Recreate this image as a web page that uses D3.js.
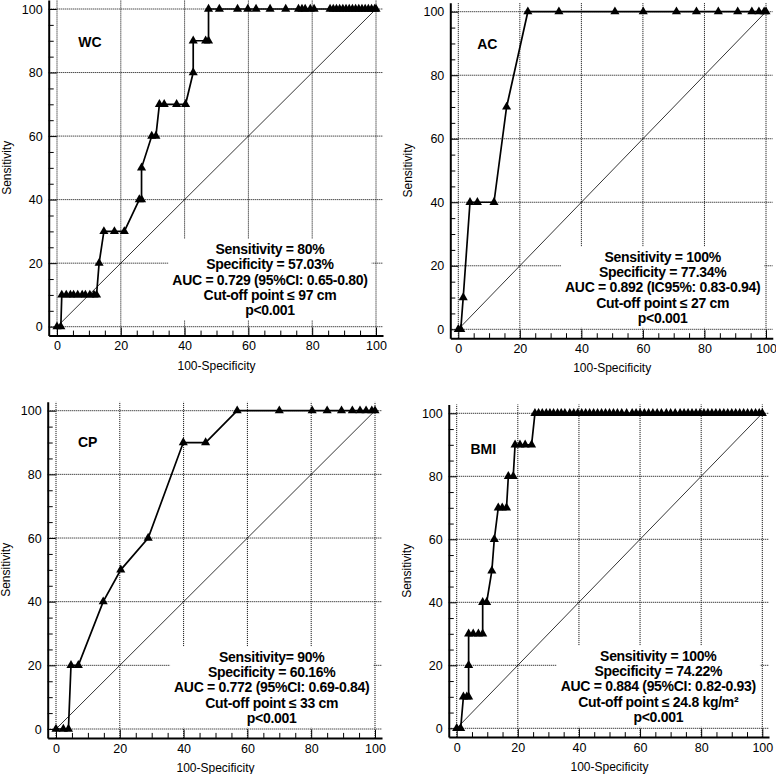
<!DOCTYPE html>
<html>
<head>
<meta charset="utf-8">
<script src="https://cdn.jsdelivr.net/npm/d3@7"></script>
<style>
  body { margin: 0; background: #fff; }
  text { font-family: "Liberation Sans", Arial, Helvetica, sans-serif; }
</style>
</head>
<body>
<script>
// tick labels
var xTicks = [0, 20, 40, 60, 80, 100];
var yTicks = [0, 20, 40, 60, 80, 100];
var minorTicks = [5, 10, 15, 25, 30, 35, 45, 50, 55, 65, 70, 75, 85, 90, 95];

// ROC points [100-specificity, sensitivity]
var wcPoints = [[0,0],[1.2,0],[1.5,10],[2.9,10],[4.2,10],[5.2,10],[6.5,10],[7.9,10],[8.9,10],[10.3,10],[11.6,10],[12.4,10],
  [13.2,20],[14.7,30],[18,30],[21.1,30],[25.8,40],[26.5,40],[26.5,50],[29.7,60],[31,60],[32.1,70],[33.6,70],[37.5,70],[40.3,70],
  [42.7,80],[42.7,90],[46.6,90],[47.5,90],[47.5,100],[50.9,100],[56.6,100],[59.8,100],[62.4,100],[66.8,100],[71.7,100],
  [75.7,100],[76.8,100],[77.8,100],[79.4,100],[80.6,100],[85.6,100],[86.6,100],[87.6,100],[88.6,100],[89.6,100],[90.6,100],
  [91.6,100],[92.6,100],[93.6,100],[94.6,100],[95.6,100],[96.6,100],[97.6,100],[98.6,100],[99.6,100],[100,100]];

var acPoints = [[0,0],[0.8,0],[1.6,10],[3.8,40],[6.2,40],[11.6,40],[15.7,70],[22.6,100],[32.7,100],[50.9,100],[60.1,100],
  [70.9,100],[77.4,100],[84.5,100],[90.8,100],[95.4,100],[97.7,100],[99.4,100],[100,100]];

var cpPoints = [[0,0],[2.3,0],[3.9,0],[4.7,20],[7,20],[14.8,40],[20.3,50],[28.9,60],[39.9,90],[46.9,90],[56.8,100],[70,100],
  [80.3,100],[85,100],[89.5,100],[92.9,100],[95.3,100],[97.2,100],[99,100],[100,100]];

var bmiPoints = [[0,0],[1.3,0],[2.2,10],[3.3,10],[3.9,10],[3.9,20],[3.9,30],[5.4,30],[7.1,30],[8.5,30],[8.5,40],[9.8,40],
  [11.5,50],[12.3,60],[13.6,70],[14.9,70],[16.3,70],[16.9,80],[18.5,80],[19.1,90],[20.7,90],[22.4,90],[24.5,90],
  [25.6,100],[26.8,100],[28,100],[29.3,100],[30.5,100],[31.7,100],[33,100],[34.2,100],[35.4,100],[37,100],[38.3,100],
  [39.6,100],[40.9,100],[42.2,100],[43.5,100],[44.8,100],[46.1,100],[47.4,100],[48.7,100],[50,100],[51.3,100],[52.6,100],
  [54,100],[55.6,100],[57.4,100],[58.7,100],[60,100],[61.4,100],[62.8,100],[64.2,100],[65.6,100],[67,100],[68.6,100],
  [70,100],[71.5,100],[73.1,100],[74.4,100],[75.7,100],[77,100],[78.3,100],[79.6,100],[80.9,100],[82.2,100],[83.5,100],
  [84.8,100],[86.1,100],[87.4,100],[88.7,100],[90,100],[91.3,100],[92.6,100],[93.9,100],[95.2,100],[96.5,100],[97.8,100],
  [99,100],[100,100]];

var wcStats = ["Sensitivity = 80%", "Specificity = 57.03%", "AUC = 0.729 (95%CI: 0.65-0.80)", "Cut-off point \u2264 97 cm", "p<0.001"];
var acStats = ["Sensitivity = 100%", "Specificity = 77.34%", "AUC = 0.892 (IC95%: 0.83-0.94)", "Cut-off point \u2264 27 cm", "p<0.001"];
var cpStats = ["Sensitivity= 90%", "Specificity = 60.16%", "AUC = 0.772 (95%CI: 0.69-0.84)", "Cut-off point \u2264 33 cm", "p<0.001"];
var bmiStats = ["Sensitivity = 100%", "Specificity = 74.22%", "AUC = 0.884 (95%CI: 0.82-0.93)", "Cut-off point \u2264 24.8 kg/m\u00b2", "p<0.001"];

// panel layout (pixel position of 0 and 100 on each axis)
var panels = [
  {name: "WC",  pts: wcPoints,  stats: wcStats,  x0: 57,    x100: 376,   y0: 326.7, y100: 9,     lab: [33, 33],   txt: [213, -77.7]},
  {name: "AC",  pts: acPoints,  stats: acStats,  x0: 458.3, x100: 766,   y0: 329.3, y100: 11.7,  lab: [29, 32.6], txt: [204.4, -72.6]},
  {name: "CP",  pts: cpPoints,  stats: cpStats,  x0: 56,    x100: 375,   y0: 729,   y100: 410.7, lab: [31.7, 31.6], txt: [215.7, -72.3]},
  {name: "BMI", pts: bmiPoints, stats: bmiStats, x0: 456.7, x100: 762.3, y0: 728.3, y100: 413.3, lab: [26.6, 35.7], txt: [201.6, -72.6]}
];

var svg = d3.select("body")
    .append("svg")
    .attr("width", 776)
    .attr("height", 774);

var font = '"Liberation Sans", Arial, Helvetica, sans-serif';

panels.forEach(function (p) {
    var g = svg.append("g");

    var kx = (p.x100 - p.x0) / 100, ky = (p.y0 - p.y100) / 100;
    var x = d3.scaleLinear().domain([-2.6, 102.2]).range([p.x0 - 2.6 * kx, p.x100 + 2.2 * kx]);
    var y = d3.scaleLinear().domain([-2.8, 102.8]).range([p.y0 + 2.8 * ky, p.y100 - 2.8 * ky]);

    // dotted grid
    g.selectAll(".vg").data(xTicks).join("line")
        .attr("x1", d => x(d)).attr("x2", d => x(d))
        .attr("y1", y.range()[0]).attr("y2", y.range()[1])
        .attr("stroke", "#000").attr("stroke-width", 1).attr("stroke-dasharray", "1,1");
    g.selectAll(".hg").data(yTicks).join("line")
        .attr("x1", x.range()[0]).attr("x2", x.range()[1])
        .attr("y1", d => y(d)).attr("y2", d => y(d))
        .attr("stroke", "#000").attr("stroke-width", 1).attr("stroke-dasharray", "1,1");

    // stats box (white background hides the grid)
    var box = g.append("rect").attr("fill", "#fff");
    var txt = g.append("text")
        .attr("text-anchor", "middle")
        .attr("font-size", 14)
        .attr("letter-spacing", -0.3)
        .attr("font-weight", "bold")
        .attr("fill", "#000");
    txt.selectAll("tspan").data(p.stats).join("tspan")
        .attr("x", p.x0 + p.txt[0])
        .attr("y", (d, i) => p.y0 + p.txt[1] + i * 15.3)
        .attr("dy", "0.35em")
        .text(d => d);
    var bb = txt.node().getBBox();
    box.attr("x", bb.x - 4).attr("y", bb.y - 2).attr("width", bb.width + 8).attr("height", bb.height + 4);

    // reference diagonal
    g.append("line")
        .attr("x1", x(0)).attr("y1", y(0)).attr("x2", x(100)).attr("y2", y(100))
        .attr("stroke", "#000").attr("stroke-width", 0.8);

    // ROC curve
    var line = d3.line().x(d => x(d[0])).y(d => y(d[1]));
    g.append("path")
        .attr("d", line(p.pts))
        .attr("fill", "none")
        .attr("stroke", "#000")
        .attr("stroke-width", 1.7);

    g.selectAll(".mk").data(p.pts).join("path")
        .attr("transform", d => "translate(" + x(d[0]) + "," + y(d[1]) + ")")
        .attr("d", d3.symbol(d3.symbolTriangle, 36))
        .attr("fill", "#000");

    // axes
    var ya = g.append("g").attr("transform", "translate(" + x.range()[0] + ",0)")
        .call(d3.axisLeft(y).tickValues(yTicks).tickSize(-8).tickSizeOuter(0).tickPadding(6));
    g.append("g").attr("transform", "translate(" + x.range()[0] + ",0)")
        .call(d3.axisLeft(y).tickValues(minorTicks).tickSize(-5).tickSizeOuter(0).tickFormat(""))
        .select(".domain").remove();
    var xa = g.append("g").attr("transform", "translate(0," + y.range()[0] + ")")
        .call(d3.axisBottom(x).tickValues(xTicks).tickSize(-8).tickSizeOuter(0).tickPadding(6));
    g.append("g").attr("transform", "translate(0," + y.range()[0] + ")")
        .call(d3.axisBottom(x).tickValues(minorTicks).tickSize(-5).tickSizeOuter(0).tickFormat(""))
        .select(".domain").remove();
    [ya, xa].forEach(function (a) {
        a.attr("font-size", 12.5).attr("font-family", font);
        a.select(".domain").attr("stroke-width", 2);
        a.selectAll("text").attr("fill", "#000");
    });

    // titles
    g.append("text")
        .attr("transform", "translate(" + (x.range()[0] - 38) + "," + ((p.y0 + p.y100) / 2) + ") rotate(-90)")
        .attr("text-anchor", "middle")
        .attr("font-size", 12)
        .text("Sensitivity");
    g.append("text")
        .attr("x", (p.x0 + p.x100) / 2)
        .attr("y", y.range()[0] + 34)
        .attr("text-anchor", "middle")
        .attr("font-size", 12)
        .text("100-Specificity");

    g.append("text")
        .attr("x", p.x0 + p.lab[0])
        .attr("y", p.y100 + p.lab[1])
        .attr("dy", "0.35em")
        .attr("text-anchor", "middle")
        .attr("font-size", 14)
        .attr("font-weight", "bold")
        .text(p.name);
});
</script>
</body>
</html>
